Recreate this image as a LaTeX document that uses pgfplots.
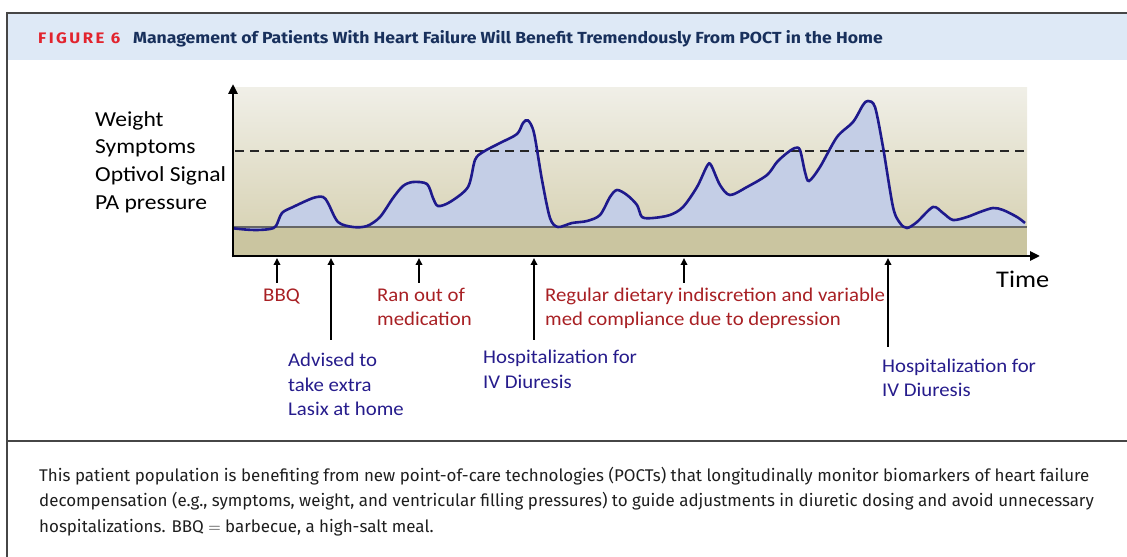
\documentclass[border=0pt]{standalone}
\usepackage{pgfplots}
\pgfplotsset{compat=1.18}
\usepackage{pgfplotstable}
\usetikzlibrary{arrows.meta}
\usepackage{fontspec}
\setmainfont{Carlito}
\newfontfamily\annfont[FakeStretch=1.07]{Carlito}
\newfontfamily\ylabfont[FakeStretch=1.1]{Carlito}
\newfontfamily\capfont{Fira Sans}
\newfontfamily\titfont[FakeStretch=1.1]{Fira Sans}
\newfontfamily\figfont[LetterSpace=16,FakeStretch=1.1]{Fira Sans}

\definecolor{bgtop}{RGB}{240,239,231}
\definecolor{bgbot}{RGB}{217,212,183}
\definecolor{bglow}{RGB}{202,197,160}
\definecolor{curvec}{RGB}{30,25,140}
\definecolor{fillc}{RGB}{196,206,230}
\definecolor{annred}{RGB}{168,32,36}
\definecolor{annblue}{RGB}{38,28,140}
\definecolor{titleblue}{RGB}{24,48,92}
\definecolor{figred}{RGB}{226,36,46}
\definecolor{band}{RGB}{222,233,246}
\definecolor{frame}{RGB}{70,70,70}
\definecolor{captext}{RGB}{30,30,30}

\pgfplotstableread{
x y
233 26.7
245 25.5
257 25
270 26
276 29
282 42
293 48
313 57
323 58
328 52
338 33
353 28
367 29
380 38
393 57
403 69
413 73
427 71
433 57
438 49
450 53
468 68
475 95
483 103
500 112
517 121
523 132
528 134.5
534 122
542 75
550 37
558 28
572 32
587 34
600 40
610 58
617 65
627 60
637 50
642 38
653 37
670 40
683 48
697 68
707 89
711 90
720 70
730 60
747 68
767 80
777 93
787 102
795 107
800 105
805 83
809 74
820 88
837 118
853 133
863 150
868 154
875 148
883 108
893 48
900 32
907 27
917 33
933 48
943 42
953 35
967 38
980 43
993 47
1003 45
1017 38
1025 32
}\curvedata

\begin{document}
\begin{tikzpicture}
\begin{scope}[x=1bp,y=-1bp]
\useasboundingbox (0,0) rectangle (1127,557);
% title band and frame
\fill[band] (8,14) rectangle (1127,60);
\draw[frame,line width=2bp] (7,13) -- (1127,13);
\draw[frame,line width=2bp] (7,12) -- (7,557);
\draw[frame,line width=1.6bp] (7,441) -- (1127,441);
\node[anchor=base west,inner sep=0,text=figred] at (38,44)
  {\figfont\bfseries\fontsize{15.3}{17}\selectfont FIGURE 6};
\node[anchor=base west,inner sep=0,text=titleblue] at (133,44)
  {\titfont\bfseries\fontsize{16.1}{18}\selectfont Management of Patients With Heart Failure Will Benefit Tremendously From POCT in the Home};
% plot background
\shade[top color=bgtop,bottom color=bgbot] (233,88) rectangle (1027,227);
\fill[bglow] (233,227) rectangle (1027,256);
\end{scope}

\begin{axis}[at={(233bp,-255bp)},anchor=south west,
  x=1bp,y=1bp,xmin=233,xmax=1027,ymin=-28,ymax=139,
  hide axis,clip=false]
\addplot[fill=fillc,draw=none,smooth,tension=0.5] table[x=x,y expr=\thisrow{y}-28] {\curvedata} \closedcycle;
\addplot[color=gray!80!black,line width=1.2bp] coordinates {(233,0) (1027,0)};
\addplot[black!85,line width=2.6bp,dash pattern=on 9bp off 6bp] coordinates {(235,76) (1027,76)};
\addplot[curvec,line width=2.6bp,smooth,tension=0.5] table[x=x,y expr=\thisrow{y}-28] {\curvedata};
\end{axis}

\begin{scope}[x=1bp,y=-1bp]
% axes
\draw[line width=2.8bp,-{Triangle[length=10bp,width=9bp]}] (233,257.4) -- (233,84);
\draw[line width=2.8bp,-{Triangle[length=10bp,width=9bp]}] (231.6,256) -- (1040,256);
% event arrows
\foreach \xx/\yy in {277/283, 331/340, 419/283, 534/340, 684/283, 888/347}
  \draw[line width=2.2bp,-{Triangle[length=7bp,width=6.5bp]}] (\xx,\yy) -- (\xx,258);
% y label
\begin{scope}[every node/.style={anchor=base west,inner sep=0,font=\ylabfont\fontsize{21.5}{24}\selectfont}]
\node at (95,127) {Weight};
\node at (95,154) {Symptoms};
\node at (95,182) {Optivol Signal};
\node at (95,210) {PA pressure};
\node at (996,288) {\fontsize{24}{26}\selectfont Time};
\end{scope}
\begin{scope}[every node/.style={anchor=base west,inner sep=0,font=\annfont\fontsize{19.5}{22}\selectfont}]
\node[text=annred] at (263,302) {BBQ};
\node[text=annred] at (377,302) {Ran out of};
\node[text=annred] at (377,326) {medication};
\node[text=annred] at (545,302) {Regular dietary indiscretion and variable};
\node[text=annred] at (545,326) {med compliance due to depression};
\node[text=annblue] at (288,367) {Advised to};
\node[text=annblue] at (288,391) {take extra};
\node[text=annblue] at (288,415) {Lasix at home};
\node[text=annblue] at (483,364) {Hospitalization for};
\node[text=annblue] at (483,388) {IV Diuresis};
\node[text=annblue] at (882,373) {Hospitalization for};
\node[text=annblue] at (882,396) {IV Diuresis};
\end{scope}
% caption
\begin{scope}[every node/.style={anchor=base west,inner sep=0,text=captext,font=\capfont\fontsize{17}{20}\selectfont}]
\node at (39,481) {This patient population is benefiting from new point-of-care technologies (POCTs) that longitudinally monitor biomarkers of heart failure};
\node at (39,506) {decompensation (e.g., symptoms, weight, and ventricular filling pressures) to guide adjustments in diuretic dosing and avoid unnecessary};
\node at (39,532) {hospitalizations. BBQ $=$ barbecue, a high-salt meal.};
\end{scope}
\end{scope}
\end{tikzpicture}
\end{document}
